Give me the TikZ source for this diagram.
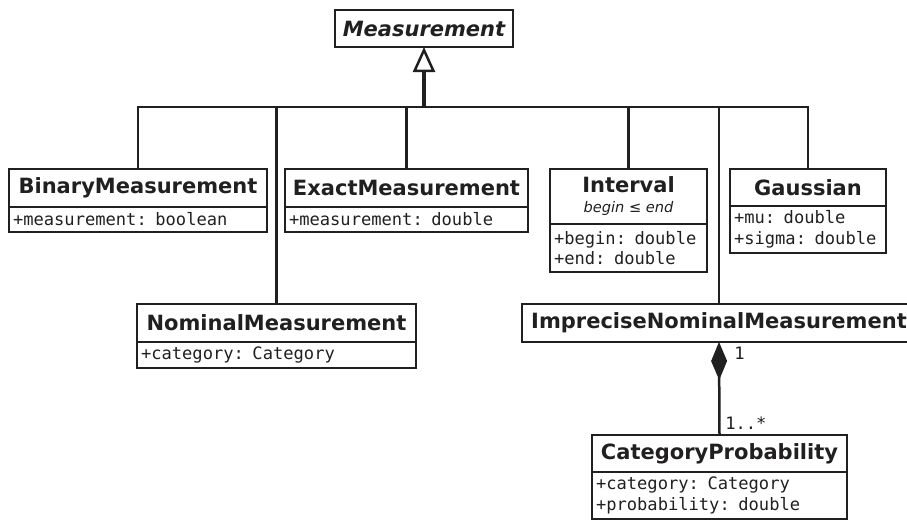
\documentclass[tikz,border=0pt]{standalone}
\usepackage{fontspec}
\setmainfont{DejaVu Sans}
\setmonofont{DejaVu Sans Mono}
\usetikzlibrary{positioning,arrows.meta}
\definecolor{umlink}{rgb}{0.13,0.12,0.12}

\begin{document}
\begin{tikzpicture}[x=1pt,y=-1pt,line width=2.5pt,umlink,
	clsname/.style={draw,anchor=north west,inner sep=0pt,outer sep=0pt,align=center,
		font=\fontsize{21}{23}\selectfont\bfseries},
	clsattr/.style={draw,anchor=north west,inner xsep=4pt,inner ysep=0pt,outer sep=0pt,align=left,
		font=\fontsize{17.1}{20.5}\selectfont\ttfamily},
	mult/.style={inner sep=0pt,font=\fontsize{17.1}{18}\selectfont\ttfamily}]
			\useasboundingbox (0,0) rectangle (907,522);
			% classes
			\node[clsname,minimum width=178pt,minimum height=37pt] (meas) at (335,10) {\itshape Measurement};
			\node[clsname,minimum width=258pt,minimum height=38pt] (binary) at (9,169) {BinaryMeasurement};
			\node[clsattr,text width=250pt,minimum height=25pt] (binaryattr) at (binary.south west) {+measurement: boolean};
			\node[clsname,minimum width=243pt,minimum height=38pt] (exact) at (285,169) {ExactMeasurement};
			\node[clsattr,text width=235pt,minimum height=25pt] (exactattr) at (exact.south west) {+measurement: double};
			\node[clsname,minimum width=157pt,minimum height=55pt] (interval) at (550,169) {Interval\\[-3pt]{\fontsize{14.6}{16}\selectfont\mdseries\itshape begin ≤ end}};
			\node[clsattr,text width=149pt,minimum height=48pt] (intervalattr) at (interval.south west) {+begin: double\\+end: double};
			\node[clsname,minimum width=156pt,minimum height=37pt] (gauss) at (730,169) {Gaussian};
			\node[clsattr,text width=148pt,minimum height=47pt] (gaussattr) at (gauss.south west) {+mu: double\\+sigma: double};
			\node[clsname,minimum width=279pt,minimum height=38pt] (nominal) at (137,304) {NominalMeasurement};
			\node[clsattr,text width=271pt,minimum height=26pt] (nominalattr) at (nominal.south west) {+category: Category};
			\node[clsname,minimum width=394pt,minimum height=38pt] (impr) at (522,304) {ImpreciseNominalMeasurement};
			\node[clsname,minimum width=255pt,minimum height=37pt] (catprob) at (592,435) {CategoryProbability};
			\node[clsattr,text width=247pt,minimum height=47pt] (catprobattr) at (catprob.south west) {+category: Category\\+probability: double};
			% generalisation
			\coordinate (bus) at (meas.south |- 0,107);
			\draw[line width=3.5pt,-{Triangle[open,length=25pt,width=22pt,line width=2.5pt]}] (bus) -- (meas.south);
			\draw (binary.north) |- (bus) -| (gauss.north);
			\draw (exact.north) -- (exact.north |- bus);
			\draw (interval.north) -- (interval.north |- bus);
			\draw (nominal.north) -- (nominal.north |- bus);
			\draw (impr.north) -- (impr.north |- bus);
			% composition
			\draw[{Diamond[length=38pt,width=16pt]}-] (impr.south) -- (catprob.north);
			\node[mult,anchor=base west] (multimpr) at (733,359) {1};
			\node[mult,anchor=base west] (multcat) at (724,429) {1..*};
		\end{tikzpicture}
\end{document}
